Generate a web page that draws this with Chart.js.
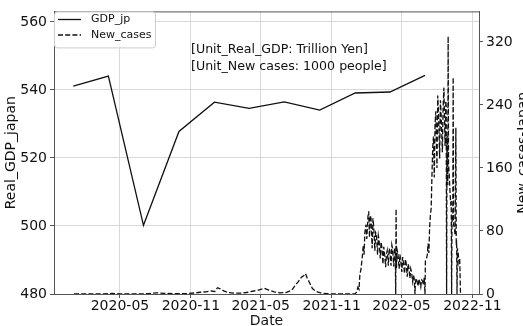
<!DOCTYPE html>
<html>
<head>
<meta charset="utf-8">
<script src="https://cdn.jsdelivr.net/npm/chart.js@4.4.1/dist/chart.umd.min.js"></script>
<style>
  html, body { margin: 0; padding: 0; overflow: hidden; background: #fff; }
  #wrap { width: 523px; height: 326px; position: relative; }
</style>
</head>
<body>
<div id="wrap"><canvas id="c" width="523" height="326"></canvas></div>
<script>
// Quarterly real GDP (trillion yen)
const gdpDates = ['2020-01-01','2020-04-01','2020-07-01','2020-10-01','2021-01-01','2021-04-01',
                  '2021-07-01','2021-10-01','2022-01-01','2022-04-01','2022-07-01'];
const gdpValues = [541.1, 544.1, 500.2, 527.8, 536.4, 534.6, 536.5, 534.1, 539.1, 539.4, 544.3];

// Daily new cases in Japan (thousand people), 2020-2021
const caseDates2020 = ['2020-01-03','2020-02-20','2020-03-20','2020-04-11','2020-05-01','2020-05-25',
  '2020-06-25','2020-07-15','2020-08-05','2020-08-25','2020-09-20','2020-10-20','2020-11-10','2020-11-25',
  '2020-12-10','2020-12-25','2021-01-02','2021-01-09','2021-01-16','2021-01-25','2021-02-06','2021-02-22',
  '2021-03-10','2021-03-25','2021-04-10','2021-04-25','2021-05-10','2021-05-22','2021-06-05','2021-06-20',
  '2021-07-05','2021-07-20','2021-07-31','2021-08-07','2021-08-14','2021-08-21','2021-08-25','2021-08-29',
  '2021-09-05','2021-09-12','2021-09-22','2021-10-05','2021-10-20','2021-11-10','2021-12-10','2021-12-25'];
const caseValues2020 = [0, 0.02, 0.05, 0.7, 0.2, 0.02,
  0.1, 0.5, 1.5, 0.8, 0.5, 0.6, 1.3, 2.2,
  2.8, 3.8, 3.1, 8.0, 6.5, 4.0, 1.8, 1.0,
  1.2, 1.9, 3.5, 5.0, 7.2, 5.0, 2.8, 1.5,
  1.8, 4.5, 12.0, 16.0, 21.0, 23.5, 26.0, 21.0,
  14.0, 7.0, 3.0, 1.2, 0.4, 0.15, 0.1, 0.2];

// Daily new cases in Japan (thousand people), 2022
const caseDates2022 = ['2022-01-01','2022-01-05','2022-01-08','2022-01-11','2022-01-13','2022-01-16',
  '2022-01-19','2022-01-22','2022-01-24','2022-01-26','2022-01-29','2022-01-31','2022-02-03','2022-02-05',
  '2022-02-07','2022-02-09','2022-02-11','2022-02-14','2022-02-16','2022-02-18','2022-02-21','2022-02-23',
  '2022-02-25','2022-02-28','2022-03-02','2022-03-04','2022-03-07','2022-03-09','2022-03-11','2022-03-14',
  '2022-03-16','2022-03-18','2022-03-21','2022-03-23','2022-03-25','2022-03-28','2022-03-30','2022-04-01',
  '2022-04-04','2022-04-06','2022-04-08','2022-04-11','2022-04-13','2022-04-15','2022-04-16','2022-04-17',
  '2022-04-18','2022-04-20','2022-04-22','2022-04-25','2022-04-27','2022-04-29','2022-05-02','2022-05-04',
  '2022-05-06','2022-05-09','2022-05-11','2022-05-13','2022-05-16','2022-05-18','2022-05-20','2022-05-23',
  '2022-05-25','2022-05-27','2022-05-30','2022-06-01','2022-06-03','2022-06-05','2022-06-06','2022-06-08',
  '2022-06-10','2022-06-13','2022-06-15','2022-06-17','2022-06-20','2022-06-22','2022-06-24','2022-06-27',
  '2022-06-29','2022-07-01','2022-07-02','2022-07-05','2022-07-07','2022-07-09','2022-07-11','2022-07-13',
  '2022-07-15','2022-07-17','2022-07-19','2022-07-21','2022-07-23','2022-07-25','2022-07-27','2022-07-29',
  '2022-08-01','2022-08-03','2022-08-05','2022-08-08','2022-08-10','2022-08-12','2022-08-15','2022-08-17',
  '2022-08-19','2022-08-22','2022-08-24','2022-08-25','2022-08-26','2022-08-27','2022-08-29','2022-08-30',
  '2022-08-31','2022-09-02','2022-09-04','2022-09-06','2022-09-07','2022-09-08','2022-09-09','2022-09-11',
  '2022-09-12','2022-09-13','2022-09-15','2022-09-17','2022-09-19','2022-09-20','2022-09-21','2022-09-22',
  '2022-09-23','2022-09-25','2022-09-27','2022-09-29','2022-10-01'];
const caseValues2022 = [0.5, 2.6, 8.5, 6.0, 24, 32,
  45, 62, 50, 78, 88, 70, 98, 105,
  72, 100, 96, 58, 96, 86, 55, 78,
  76, 50, 74, 68, 45, 66, 60, 38,
  60, 52, 34, 50, 55, 36, 58, 55,
  36, 62, 57, 35, 58, 52, 0, 108,
  33, 55, 50, 32, 50, 42, 28, 47,
  40, 26, 44, 40, 22, 38, 34, 20,
  32, 28, 16, 24, 20, 0, 14, 20,
  17, 10, 19, 16, 9, 18, 17, 12,
  21, 0, 42, 45, 50, 64, 52, 85,
  100, 109, 150, 186, 200, 148, 215, 232,
  160, 252, 230, 172, 246, 226, 180, 238,
  262, 188, 245, 238, 0, 200, 138, 327,
  165, 150, 128, 112, 118, 0, 100, 92,
  275, 88, 84, 75, 211, 62, 68, 0,
  58, 52, 40, 45, 0];

const dateTicks = ['2020-05', '2020-11', '2021-05', '2021-11', '2022-05', '2022-11'];
const gdpTicks = [480, 500, 520, 540, 560];
const caseTicks = [0, 80, 160, 240, 320];

const FONT = '"DejaVu Sans", "Liberation Sans", sans-serif';
const INK = '#111111';
const SPINE = '#555555';
const GRID = '#d9d9d9';

function toTime(s) {
  const p = s.split('-').map(Number);
  return Date.UTC(p[0], p[1] - 1, p[2] || 1);
}

const gdpPoints = gdpDates.map((d, i) => ({ x: toTime(d), y: gdpValues[i] }));
const caseValuesAll = caseValues2020.concat(caseValues2022);
const casePoints = caseDates2020.concat(caseDates2022)
  .map((d, i) => ({ x: toTime(d), y: caseValuesAll[i] }));

// Frame, legend, unit note and right-hand axis title
const decor = {
  id: 'decor',
  afterDatasetsDraw(chart) {
    const { ctx, chartArea: a } = chart;
    ctx.save();
    ctx.strokeStyle = SPINE;
    ctx.lineWidth = 1;
    ctx.beginPath();
    ctx.moveTo(a.left, a.top + 0.5);
    ctx.lineTo(a.right, a.top + 0.5);
    ctx.stroke();
    ctx.restore();
  },
  afterDraw(chart) {
    const { ctx, chartArea: a } = chart;
    ctx.save();

    // unit note
    ctx.fillStyle = INK;
    ctx.font = '12.6px ' + FONT;
    ctx.textAlign = 'left';
    ctx.textBaseline = 'middle';
    ctx.fillText('[Unit_Real_GDP: Trillion Yen]', 191, 49.5);
    ctx.fillText('[Unit_New cases: 1000 people]', 191, 67);

    // legend box
    const bx = a.left + 0.5, by = a.top + 0.5, bw = 101, bh = 36, r = 3;
    ctx.beginPath();
    ctx.moveTo(bx + r, by);
    ctx.lineTo(bx + bw - r, by);
    ctx.quadraticCurveTo(bx + bw, by, bx + bw, by + r);
    ctx.lineTo(bx + bw, by + bh - r);
    ctx.quadraticCurveTo(bx + bw, by + bh, bx + bw - r, by + bh);
    ctx.lineTo(bx + r, by + bh);
    ctx.quadraticCurveTo(bx, by + bh, bx, by + bh - r);
    ctx.lineTo(bx, by + r);
    ctx.quadraticCurveTo(bx, by, bx + r, by);
    ctx.closePath();
    ctx.fillStyle = 'rgba(255,255,255,0.9)';
    ctx.fill();
    ctx.strokeStyle = '#cccccc';
    ctx.lineWidth = 1;
    ctx.stroke();

    const items = chart.data.datasets;
    const rows = [19.5, 35];
    items.forEach((ds, i) => {
      ctx.strokeStyle = ds.borderColor;
      ctx.lineWidth = ds.borderWidth;
      ctx.setLineDash(ds.borderDash || []);
      ctx.beginPath();
      ctx.moveTo(58, rows[i]);
      ctx.lineTo(81, rows[i]);
      ctx.stroke();
      ctx.setLineDash([]);
      ctx.fillStyle = INK;
      ctx.font = '11px ' + FONT;
      ctx.textAlign = 'left';
      ctx.textBaseline = 'middle';
      ctx.fillText(ds.label, 91, rows[i]);
    });

    // right axis title, reading upward
    ctx.translate(523, (a.top + a.bottom) / 2);
    ctx.rotate(-Math.PI / 2);
    ctx.fillStyle = INK;
    ctx.font = '14px ' + FONT;
    ctx.textAlign = 'center';
    ctx.textBaseline = 'middle';
    ctx.fillText('New_cases-Japan', 0, 0);
    ctx.restore();
  }
};

const tickFont = { family: FONT, size: 14 };
const titleFont = { family: FONT, size: 14 };

new Chart(document.getElementById('c'), {
  type: 'line',
  data: {
    datasets: [
      { label: 'GDP_jp', data: gdpPoints, yAxisID: 'y', borderColor: INK, borderWidth: 1.3,
        pointRadius: 0, tension: 0, order: 1 },
      { label: 'New_cases', data: casePoints, yAxisID: 'y1', borderColor: INK, borderWidth: 1.3,
        borderDash: [5, 2.2], pointRadius: 0, tension: 0, order: 0 }
    ]
  },
  options: {
    responsive: false,
    animation: false,
    layout: { padding: { top: 10, left: 0, right: 0, bottom: 0 } },
    plugins: { legend: { display: false }, tooltip: { enabled: false } },
    scales: {
      x: {
        type: 'linear',
        min: toTime('2019-11-12'),
        max: toTime('2022-11-18'),
        afterBuildTicks: s => { s.ticks = dateTicks.map(t => ({ value: toTime(t) })); },
        afterFit: s => { s.height = 32; },
        ticks: { callback: (v, i) => dateTicks[i], autoSkip: false, maxRotation: 0,
                 font: tickFont, color: INK, padding: 0 },
        grid: { color: GRID, tickColor: SPINE, tickLength: 4 },
        border: { color: SPINE },
        title: { display: true, text: 'Date', font: titleFont, color: INK, padding: { top: 0, bottom: -4 } }
      },
      y: {
        position: 'left',
        min: 480,
        max: 563.1,
        afterBuildTicks: s => { s.ticks = gdpTicks.map(v => ({ value: v })); },
        afterFit: s => { s.width = 54; },
        ticks: { font: tickFont, color: INK, padding: 3 },
        grid: { color: GRID, tickColor: SPINE, tickLength: 4 },
        border: { color: SPINE },
        title: { display: true, text: 'Real_GDP_japan', font: titleFont, color: INK, padding: { top: 2.5, bottom: 0 } }
      },
      y1: {
        position: 'right',
        min: 0,
        max: 358.8,
        afterBuildTicks: s => { s.ticks = caseTicks.map(v => ({ value: v })); },
        afterFit: s => { s.width = 44; },
        ticks: { font: tickFont, color: INK, padding: 3 },
        grid: { drawOnChartArea: false, color: GRID, tickColor: SPINE, tickLength: 4 },
        border: { color: SPINE }
      }
    }
  },
  plugins: [decor]
});
</script>
</body>
</html>
